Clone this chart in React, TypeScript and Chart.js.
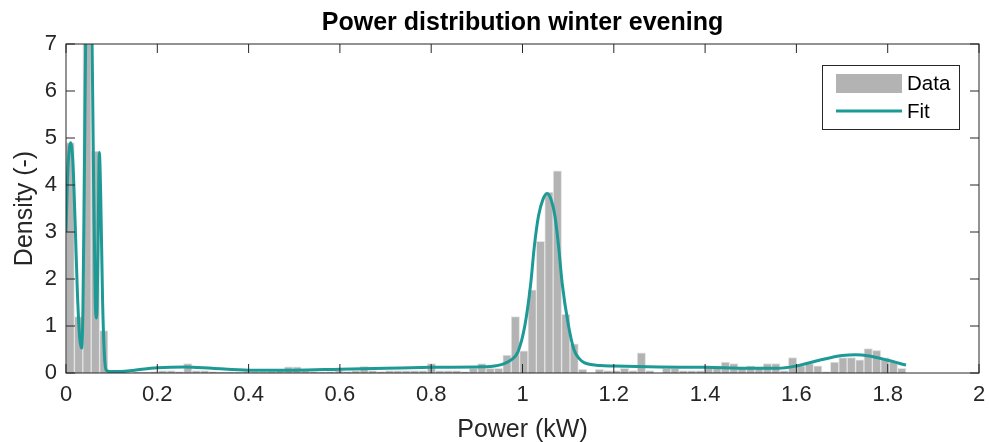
import React, { useEffect, useRef } from "react";
import { Chart, registerables } from "chart.js";

Chart.register(...registerables);

const TITLE = "Power distribution winter evening";
const X_LABEL = "Power (kW)";
const Y_LABEL = "Density (-)";
const LEGEND_LABELS = ["Data", "Fit"];

const X_TICK_LABELS = ["0", "0.2", "0.4", "0.6", "0.8", "1", "1.2", "1.4", "1.6", "1.8", "2"];
const Y_TICK_LABELS = ["0", "1", "2", "3", "4", "5", "6", "7"];

const BIN_WIDTH = 0.0184;
// histogram density per bin (bins start at 0, width BIN_WIDTH)
const DENSITY = [
  4.9, 1.2, 9.0, 4.72, 0.9, 0, 0, 0, 0.02, 0.02,
  0.03, 0.05, 0.05, 0.03, 0.2, 0.05, 0.05, 0.03, 0.02, 0.02,
  0.02, 0.03, 0.02, 0.02, 0.03, 0.05, 0.13, 0.13, 0.05, 0.03,
  0.02, 0.03, 0.05, 0.03, 0.05, 0.14, 0.05, 0.03, 0.05, 0.05,
  0.05, 0.05, 0.05, 0.2, 0.05, 0.05, 0.05, 0.03, 0.1, 0.2,
  0.1, 0.1, 0.38, 1.2, 0.47, 1.77, 2.8, 3.85, 4.3, 1.25,
  0.62, 0.08, 0, 0.08, 0.05, 0.05, 0.1, 0.05, 0.43, 0.05,
  0, 0.1, 0.1, 0.05, 0.05, 0.05, 0.15, 0.15, 0.23, 0.2,
  0.1, 0.15, 0.1, 0.2, 0.2, 0.05, 0.33, 0.15, 0.2, 0.15,
  0.03, 0.23, 0.33, 0.33, 0.28, 0.52, 0.48, 0.33, 0.23, 0.1,
];

const FIT_X = [
  0, 0.004, 0.01, 0.015, 0.02, 0.025, 0.03, 0.034, 0.037, 0.04,
  0.044, 0.05, 0.056, 0.06, 0.064, 0.067, 0.07, 0.073, 0.076, 0.08,
  0.084, 0.088, 0.095, 0.12, 0.15, 0.2, 0.26, 0.32, 0.4, 0.5,
  0.6, 0.7, 0.8, 0.9, 0.93, 0.96, 0.975, 0.99, 1.005, 1.018,
  1.026, 1.035, 1.045, 1.054, 1.063, 1.071, 1.079, 1.087, 1.1, 1.113,
  1.125, 1.135, 1.17, 1.2, 1.3, 1.4, 1.5, 1.56, 1.6, 1.65,
  1.7, 1.73, 1.76, 1.8, 1.84,
];
const FIT_Y = [
  3.0, 4.3, 4.9, 4.5, 3.2, 1.7, 0.75, 0.53, 1.3, 4.0,
  8.0, 11.0, 8.0, 4.5, 1.6, 1.17, 2.6, 4.69, 3.8, 1.6,
  0.4, 0.06, 0.03, 0.03, 0.06, 0.11, 0.13, 0.1, 0.06, 0.06,
  0.08, 0.1, 0.12, 0.13, 0.14, 0.2, 0.28, 0.45, 1.0, 1.9,
  2.7, 3.34, 3.7, 3.82, 3.68, 3.34, 2.7, 1.9, 1.05, 0.49,
  0.3, 0.22, 0.16, 0.15, 0.13, 0.12, 0.1, 0.1, 0.15, 0.27,
  0.37, 0.39, 0.36, 0.27, 0.17,
];

const BAR_COLOR = "#b3b3b3";
const FIT_COLOR = "#1d9a96";
const AXIS_COLOR = "#262626";
const FONT = "'Liberation Sans', Arial, Helvetica, sans-serif";

const matlabPlugin = {
  id: "matlabAxes",
  afterDraw(chart: any) {
    const { ctx, chartArea: a, scales } = chart;
    ctx.save();
    ctx.strokeStyle = AXIS_COLOR;
    ctx.lineWidth = 1;
    ctx.strokeRect(a.left, a.top, a.right - a.left, a.bottom - a.top);
    const tl = 9;
    ctx.beginPath();
    scales.x.ticks.forEach((t: any) => {
      const px = scales.x.getPixelForValue(t.value);
      ctx.moveTo(px, a.bottom);
      ctx.lineTo(px, a.bottom - tl);
      ctx.moveTo(px, a.top);
      ctx.lineTo(px, a.top + tl);
    });
    scales.y.ticks.forEach((t: any) => {
      const py = scales.y.getPixelForValue(t.value);
      ctx.moveTo(a.left, py);
      ctx.lineTo(a.left + tl, py);
      ctx.moveTo(a.right, py);
      ctx.lineTo(a.right - tl, py);
    });
    ctx.stroke();

    // title
    ctx.fillStyle = "#000000";
    ctx.font = `bold 25px ${FONT}`;
    ctx.textAlign = "center";
    ctx.textBaseline = "middle";
    ctx.fillText(TITLE, (a.left + a.right) / 2, 23);

    // axis titles
    ctx.fillStyle = AXIS_COLOR;
    ctx.font = `25px ${FONT}`;
    ctx.fillText(X_LABEL, (a.left + a.right) / 2, 430);
    ctx.save();
    ctx.translate(25, (a.top + a.bottom) / 2);
    ctx.rotate(-Math.PI / 2);
    ctx.fillText(Y_LABEL, 0, 0);
    ctx.restore();

    // legend
    const lx = 822.5, ly = 65.5, lw = 137, lh = 64;
    ctx.fillStyle = "#ffffff";
    ctx.fillRect(lx, ly, lw, lh);
    ctx.strokeStyle = AXIS_COLOR;
    ctx.lineWidth = 1;
    ctx.strokeRect(lx, ly, lw, lh);
    ctx.fillStyle = BAR_COLOR;
    ctx.fillRect(836, 74, 66, 19);
    ctx.strokeStyle = FIT_COLOR;
    ctx.lineWidth = 3;
    ctx.beginPath();
    ctx.moveTo(836, 111);
    ctx.lineTo(902, 111);
    ctx.stroke();
    ctx.fillStyle = "#000000";
    ctx.font = `20.5px ${FONT}`;
    ctx.textAlign = "left";
    ctx.fillText(LEGEND_LABELS[0], 907, 84);
    ctx.fillText(LEGEND_LABELS[1], 907, 112);
    ctx.restore();
  },
};

export default function App() {
  const ref = useRef<HTMLCanvasElement | null>(null);
  useEffect(() => {
    if (!ref.current) return;
    const bars = DENSITY.map((v, i) => ({ x: (i + 0.5) * BIN_WIDTH, y: v }));
    const fit = FIT_X.map((x, i) => ({ x, y: FIT_Y[i] }));
    const chart = new Chart(ref.current, {
      type: "bar",
      data: {
        datasets: [
          {
            type: "line",
            label: LEGEND_LABELS[1],
            data: fit,
            borderColor: FIT_COLOR,
            borderWidth: 3,
            pointRadius: 0,
            cubicInterpolationMode: "monotone",
            fill: false,
            order: 0,
          } as any,
          {
            type: "bar",
            label: LEGEND_LABELS[0],
            data: bars,
            backgroundColor: BAR_COLOR,
            borderColor: "#e3e3e3",
            borderWidth: 1,
            borderSkipped: "bottom",
            barPercentage: 1,
            categoryPercentage: 1,
            order: 1,
          } as any,
        ],
      },
      options: {
        responsive: false,
        animation: false,
        layout: { padding: { top: 44, right: 10, left: 0, bottom: 0 } },
        plugins: {
          legend: { display: false },
          title: { display: false },
          tooltip: { enabled: false },
        },
        scales: {
          x: {
            type: "linear",
            min: 0,
            max: 2,
            offset: false,
            grid: { display: false, drawTicks: false, offset: false },
            border: { display: false },
            afterFit: (s: any) => {
              s.height = 69;
              s.paddingLeft = 0;
              s.paddingRight = 0;
            },
            ticks: {
              stepSize: 0.2,
              autoSkip: false,
              maxRotation: 0,
              padding: 9,
              color: AXIS_COLOR,
              font: { family: FONT, size: 22 },
              callback: (_v: any, i: number) => X_TICK_LABELS[i],
            },
          },
          y: {
            min: 0,
            max: 7,
            grid: { display: false, drawTicks: false },
            border: { display: false },
            afterFit: (s: any) => {
              s.width = 66;
              s.paddingTop = 0;
              s.paddingBottom = 0;
            },
            ticks: {
              stepSize: 1,
              padding: 9,
              color: AXIS_COLOR,
              font: { family: FONT, size: 22 },
              callback: (_v: any, i: number) => Y_TICK_LABELS[i],
            },
          },
        },
      },
      plugins: [matlabPlugin],
    });
    return () => chart.destroy();
  }, []);
  return (
    <div style={{ position: "fixed", left: 0, top: 0, width: 989, height: 442, background: "#fff" }}>
      <canvas ref={ref} width={989} height={442} style={{ display: "block" }} />
    </div>
  );
}
